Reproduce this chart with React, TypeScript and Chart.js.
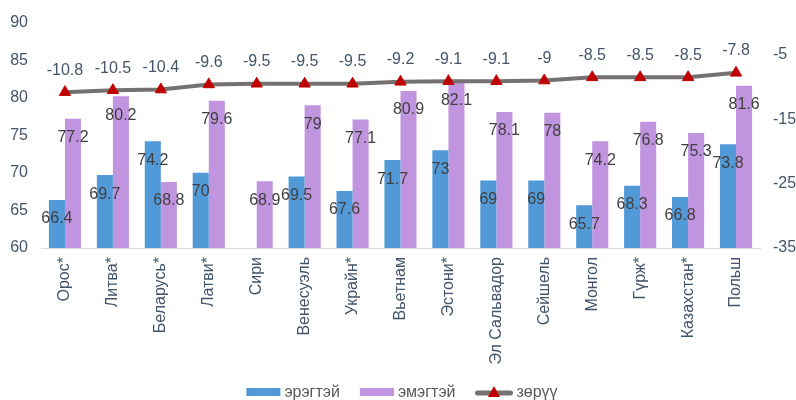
import React, { useEffect, useRef } from "react";
import { Chart, registerables } from "chart.js";

Chart.register(...registerables);

const categories = ["Орос*", "Литва*", "Беларусь*", "Латви*", "Сири", "Венесуэль", "Украйн*", "Вьетнам", "Эстони*", "Эл Сальвадор", "Сейшель", "Монгол", "Гүрж*", "Казахстан*", "Польш"];
const male = [66.4, 69.7, 74.2, 70, 59.9, 69.5, 67.6, 71.7, 73, 69, 69, 65.7, 68.3, 66.8, 73.8];
const female = [77.2, 80.2, 68.8, 79.6, 68.9, 79, 77.1, 80.9, 82.1, 78.1, 78, 74.2, 76.8, 75.3, 81.6];
const diff = [-10.8, -10.5, -10.4, -9.6, -9.5, -9.5, -9.5, -9.2, -9.1, -9.1, -9, -8.5, -8.5, -8.5, -7.8];
const seriesNames = ["эрэгтэй", "эмэгтэй", "зөрүү"];
const rightTicks = [-35, -25, -15, -5];

const BLUE = "#5299D8";
const PURPLE = "#C094DE";
const LINE = "#767171";
const RED = "#C00000";
const FONT = "'Liberation Sans', Arial, sans-serif";
const FS = 16;

const labelPlugin = {
  id: "valueLabels",
  afterDatasetsDraw(chart: any) {
    const ctx = chart.ctx;
    ctx.save();
    ctx.font = `${FS}px ${FONT}`;
    ctx.textAlign = "center";
    ctx.textBaseline = "middle";
    chart.data.datasets.forEach((ds: any, di: number) => {
      const meta = chart.getDatasetMeta(di);
      meta.data.forEach((el: any, i: number) => {
        const v = ds.data[i];
        if (v == null) return;
        if (ds.type === "line") {
          ctx.fillStyle = "#44546A";
          ctx.fillText(String(v), el.x, el.y - 22);
        } else {
          if (v < 60) return;
          ctx.fillStyle = "#404040";
          ctx.fillText(String(v), el.x, el.y + 19);
        }
      });
    });
    ctx.restore();
  },
};

const legendPlugin = {
  id: "customLegend",
  afterDraw(chart: any) {
    const ctx = chart.ctx;
    ctx.save();
    ctx.font = `${FS}px ${FONT}`;
    ctx.textBaseline = "middle";
    ctx.textAlign = "left";
    const iconW = [34, 34, 37];
    const gapIcon = 4;
    const gapItem = 20;
    const widths = chart.data.datasets.map((ds: any) => ctx.measureText(ds.label).width);
    let total = 0;
    widths.forEach((w: number, i: number) => {
      total += iconW[i] + gapIcon + w + (i < widths.length - 1 ? gapItem : 0);
    });
    let x = 402 - total / 2;
    const cy = 392;
    chart.data.datasets.forEach((ds: any, i: number) => {
      if (ds.type === "line") {
        ctx.strokeStyle = LINE;
        ctx.lineWidth = 5;
        ctx.lineCap = "round";
        ctx.beginPath();
        ctx.moveTo(x + 2, cy + 1);
        ctx.lineTo(x + iconW[i] - 2, cy + 1);
        ctx.stroke();
        const mx = x + iconW[i] / 2;
        ctx.fillStyle = RED;
        ctx.beginPath();
        ctx.moveTo(mx, cy - 6);
        ctx.lineTo(mx + 6, cy + 5);
        ctx.lineTo(mx - 6, cy + 5);
        ctx.closePath();
        ctx.fill();
      } else {
        ctx.fillStyle = ds.backgroundColor;
        ctx.fillRect(x, cy - 4, iconW[i], 8);
      }
      x += iconW[i] + gapIcon;
      ctx.fillStyle = "#595959";
      ctx.fillText(ds.label, x, cy + 1);
      x += widths[i] + gapItem;
    });
    ctx.restore();
  },
};

export default function App() {
  const ref = useRef<HTMLCanvasElement>(null);
  useEffect(() => {
    if (!ref.current) return;
    const chart = new Chart(ref.current, {
      type: "bar",
      data: {
        labels: categories,
        datasets: [
          {
            type: "bar",
            label: seriesNames[0],
            data: male,
            backgroundColor: BLUE,
            yAxisID: "y",
            order: 1,
            barPercentage: 1,
            categoryPercentage: 0.67,
          } as any,
          {
            type: "bar",
            label: seriesNames[1],
            data: female,
            backgroundColor: PURPLE,
            yAxisID: "y",
            order: 1,
            barPercentage: 1,
            categoryPercentage: 0.67,
          } as any,
          {
            type: "line",
            label: seriesNames[2],
            data: diff,
            borderColor: LINE,
            borderWidth: 4,
            pointStyle: "triangle",
            pointRadius: 6.5,
            pointBackgroundColor: RED,
            pointBorderColor: RED,
            pointBorderWidth: 1,
            yAxisID: "y1",
            order: 0,
            tension: 0,
          } as any,
        ],
      },
      options: {
        animation: false,
        responsive: false,
        layout: { padding: { top: 18, left: 0, right: 0, bottom: 30 } },
        plugins: {
          tooltip: { enabled: false },
          legend: { display: false },
        },
        scales: {
          x: {
            grid: { display: false, drawTicks: false },
            border: { display: true, color: "#D9D9D9", width: 1 },
            ticks: {
              autoSkip: false,
              minRotation: 90,
              maxRotation: 90,
              padding: 9,
              color: "#44546A",
              font: { size: FS, family: FONT },
            },
            afterFit: (scale: any) => {
              scale.height = 400 - 248 - 30;
            },
          },
          y: {
            position: "left",
            min: 60,
            max: 90,
            grid: { display: false, drawTicks: false },
            border: { display: false },
            ticks: {
              stepSize: 5,
              padding: 13,
              color: "#44546A",
              font: { size: FS, family: FONT },
            },
            afterFit: (scale: any) => {
              scale.width = 41;
            },
          },
          y1: {
            position: "right",
            min: -35,
            max: 0,
            grid: { display: false, drawTicks: false },
            border: { display: false },
            ticks: {
              padding: 13,
              color: "#44546A",
              font: { size: FS, family: FONT },
            },
            afterBuildTicks: (scale: any) => {
              scale.ticks = rightTicks.map((v) => ({ value: v }));
            },
            afterFit: (scale: any) => {
              scale.width = 36;
            },
          },
        },
      } as any,
      plugins: [labelPlugin, legendPlugin],
    });
    return () => chart.destroy();
  }, []);
  return (
    <div style={{ position: "absolute", left: 0, top: 0, width: 796, height: 400, background: "#fff" }}>
      <canvas ref={ref} width={796} height={400} style={{ display: "block" }} />
    </div>
  );
}
